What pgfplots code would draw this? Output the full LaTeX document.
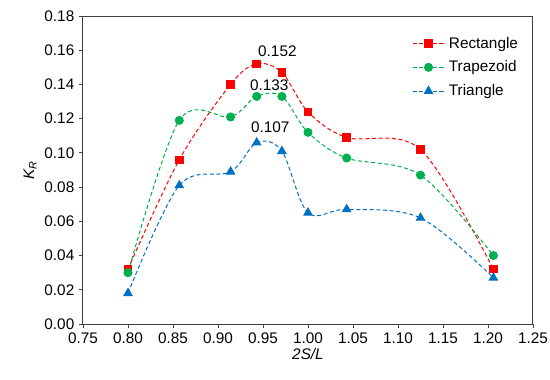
\documentclass[border=0pt]{standalone}
\usepackage{pgfplots}
\pgfplotsset{compat=1.18}
\usepackage{fontspec}
\setmainfont{Liberation Sans}
\definecolor{cR}{RGB}{255,0,0}
\definecolor{cG}{RGB}{0,176,80}
\definecolor{cB}{RGB}{0,112,192}
\begin{document}
\begin{tikzpicture}
\useasboundingbox (-62.25pt,-41.25pt) rectangle (350.25pt,243pt);
\begin{axis}[
  scale only axis, width=337.5pt, height=231pt,
  xmin=0.75, xmax=1.25, ymin=0, ymax=0.18,
  xtick={0.75,0.80,...,1.251}, ytick={0,0.02,...,0.181},
  xticklabel style={/pgf/number format/.cd,fixed,fixed zerofill,precision=2},
  yticklabel style={/pgf/number format/.cd,fixed,fixed zerofill,precision=2},
  /pgf/number format/assume math mode=true,
  tick label style={font=\fontsize{11.5}{13}\selectfont},
  tick align=outside, major tick length=3pt,
  xtick pos=bottom, ytick pos=left,
  axis line style={black!75, line width=0.75pt},
  tick style={black!75, line width=0.6pt},
  xlabel={\fontsize{11.5}{13}\selectfont\itshape 2S/L},
  ylabel={\fontsize{11.5}{13}\selectfont\itshape K\textsubscript{R}},
  xlabel style={yshift=3pt},
  ylabel style={yshift=-1pt},
  legend style={draw=none, fill=none, at={(0.985,0.95)}, anchor=north east, font=\fontsize{11.5}{13}\selectfont, row sep=4pt, nodes={inner xsep=3pt}},
  legend cell align=left,
  legend image code/.code={
    \draw[mark repeat=2,mark phase=2] plot coordinates {(0cm,0cm) (0.42cm,0cm) (0.84cm,0cm)};},
  every axis plot/.append style={smooth, tension=0.55, line width=0.75pt, dash pattern=on 3pt off 2pt},
]
\addplot[cR, mark=square*, mark size=2.8pt, mark options={solid, fill=cR}] coordinates {
(0.800,0.032) (0.857,0.096) (0.914,0.140) (0.943,0.152) (0.971,0.147) (1.000,0.124) (1.043,0.109) (1.125,0.102) (1.206,0.032)};
\addlegendentry{Rectangle}
\addplot[cG, mark=*, mark size=3pt, mark options={solid, fill=cG}] coordinates {
(0.800,0.030) (0.857,0.119) (0.914,0.121) (0.943,0.133) (0.971,0.133) (1.000,0.112) (1.043,0.097) (1.125,0.087) (1.206,0.040)};
\addlegendentry{Trapezoid}
\addplot[cB, mark=triangle*, mark size=3.5pt, mark options={solid, fill=cB}] coordinates {
(0.800,0.018) (0.857,0.081) (0.914,0.089) (0.943,0.106) (0.971,0.101) (1.000,0.065) (1.043,0.067) (1.125,0.062) (1.206,0.027)};
\addlegendentry{Triangle}
\node[font=\fontsize{11.5}{13}\selectfont] at (axis cs:0.966,0.1595) {0.152};
\node[font=\fontsize{11.5}{13}\selectfont] at (axis cs:0.957,0.1395) {0.133};
\node[font=\fontsize{11.5}{13}\selectfont] at (axis cs:0.958,0.1150) {0.107};
\end{axis}
\end{tikzpicture}
\end{document}
